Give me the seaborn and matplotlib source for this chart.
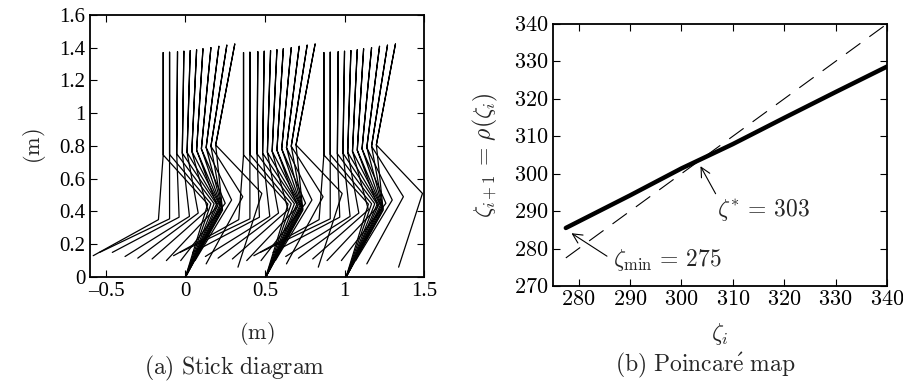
import matplotlib
matplotlib.use('Agg')
import matplotlib.pyplot as plt
from matplotlib.ticker import FuncFormatter
import pandas as pd
import seaborn as sns

# stance foot position of each step (m)
stance_foot = [0.0, 0.505, 1.01]

# joint positions during one step, relative to the stance foot (m)
top_x = [-0.14, -0.10, -0.05, -0.01, 0.03, 0.07, 0.11, 0.16, 0.21, 0.26, 0.31]
top_y = [1.370, 1.372, 1.375, 1.378, 1.382, 1.387, 1.393, 1.400, 1.408, 1.415, 1.422]
hip_x = [-0.14, -0.10, -0.055, -0.02, 0.01, 0.04, 0.07, 0.10, 0.13, 0.16, 0.19]
hip_y = [0.745, 0.748, 0.752, 0.756, 0.761, 0.767, 0.774, 0.782, 0.790, 0.798, 0.806]
knee_st_x = [0.14, 0.16, 0.18, 0.195, 0.205, 0.215, 0.22, 0.225, 0.23, 0.232, 0.233]
knee_st_y = [0.445, 0.447, 0.447, 0.445, 0.442, 0.438, 0.433, 0.427, 0.421, 0.415, 0.408]
knee_sw_x = [-0.17, -0.10, -0.04, 0.025, 0.08, 0.14, 0.20, 0.25, 0.29, 0.36, 0.48]
knee_sw_y = [0.35, 0.355, 0.365, 0.37, 0.39, 0.41, 0.43, 0.45, 0.47, 0.49, 0.51]
foot_sw_x = [-0.58, -0.54, -0.46, -0.38, -0.30, -0.21, -0.12, -0.03, 0.06, 0.13, 0.33]
foot_sw_y = [0.13, 0.15, 0.15, 0.125, 0.115, 0.11, 0.10, 0.10, 0.10, 0.08, 0.06]

# Poincare map
zeta = [277.5, 290, 300, 310, 320, 330, 340]
rho = [285.5, 294.2, 301.4, 307.9, 314.9, 321.8, 328.6]
diag = [277.5, 340]

# build stick polylines: swing foot -> swing knee -> hip -> torso -> hip -> stance knee -> stance foot
rows = []
for s, x0 in enumerate(stance_foot):
    for k in range(len(hip_x)):
        pts = [(foot_sw_x[k], foot_sw_y[k]), (knee_sw_x[k], knee_sw_y[k]),
               (hip_x[k], hip_y[k]), (top_x[k], top_y[k]), (hip_x[k], hip_y[k]),
               (knee_st_x[k], knee_st_y[k]), (0.0, 0.0)]
        for px, py in pts:
            rows.append({'frame': s * 100 + k, 'x': x0 + px, 'y': py})
sticks = pd.DataFrame(rows)

sns.set_style('ticks')
plt.rcParams['mathtext.fontset'] = 'cm'
plt.rcParams['font.family'] = ['Liberation Serif', 'DejaVu Serif']

fig = plt.figure(figsize=(9.04, 3.81), dpi=100)
ax1 = fig.add_axes([0.0996, 0.273, 0.3695, 0.688])
ax2 = fig.add_axes([0.6117, 0.2493, 0.3695, 0.688])

# stick diagram
sns.lineplot(data=sticks, x='x', y='y', units='frame', estimator=None, sort=False,
             color='k', lw=0.9, ax=ax1)
ax1.set_xlim(-0.6, 1.5)
ax1.set_ylim(0, 1.6)
ax1.set_xticks([-0.5, 0, 0.5, 1, 1.5])
ax1.set_yticks([0, 0.2, 0.4, 0.6, 0.8, 1, 1.2, 1.4, 1.6])
ax1.xaxis.set_major_formatter(FuncFormatter(lambda v, p: f'{v:g}'.replace('-', '\u2013')))
ax1.yaxis.set_major_formatter(FuncFormatter(lambda v, p: f'{v:g}'))
ax1.tick_params(labelsize=15)
ax1.set_xlabel(r'$\mathrm{(m)}$', fontsize=16, labelpad=14)
ax1.set_ylabel(r'$\mathrm{(m)}$', fontsize=16, labelpad=8)

# Poincare map
sns.lineplot(x=diag, y=diag, color='k', lw=0.8, linestyle=(0, (16, 10)), ax=ax2)
sns.lineplot(x=zeta, y=rho, color='k', lw=3.2, sort=False, ax=ax2)
ax2.set_xlim(275, 340)
ax2.set_ylim(270, 340)
ax2.set_xticks(range(280, 341, 10))
ax2.set_yticks(range(270, 341, 10))
cm_fmt = FuncFormatter(lambda v, p: f'${v:g}$')
ax2.xaxis.set_major_formatter(cm_fmt)
ax2.yaxis.set_major_formatter(cm_fmt)
ax2.tick_params(labelsize=16)
ax2.set_xlabel(r'$\zeta_i$', fontsize=17, labelpad=8)
ax2.set_ylabel(r'$\zeta_{i+1}\,=\,\rho(\zeta_i)$', fontsize=17, labelpad=10)
ax2.annotate(r'$\zeta^{*}\,=\,303$', xy=(303.7, 302), xytext=(307.0, 290.3),
             fontsize=17, va='center', ha='left',
             arrowprops=dict(arrowstyle='->', lw=0.8, color='k', shrinkA=0, shrinkB=0,
                             relpos=(0.0, 1.0)))
ax2.annotate(r'$\zeta_{\min}\,=\,275$', xy=(278.6, 284.1), xytext=(286.6, 277.0),
             fontsize=17, va='center', ha='left',
             arrowprops=dict(arrowstyle='->', lw=0.8, color='k', shrinkA=2, shrinkB=0,
                             relpos=(0.0, 0.5)))

for ax in (ax1, ax2):
    ax.tick_params(direction='in', top=True, right=True, length=5, width=0.8, colors='k')
    for sp in ax.spines.values():
        sp.set_visible(True)
        sp.set_linewidth(1.3)
        sp.set_color('k')

fig.text(0.259, 0.034, r'$\mathrm{(a)\ Stick\ diagram}$', fontsize=17, ha='center', va='center')
fig.text(0.78, 0.042, r'$\mathrm{(b)\ Poincar\acute{e}\ map}$', fontsize=17, ha='center', va='center')

fig.savefig('out.png', dpi=100)
